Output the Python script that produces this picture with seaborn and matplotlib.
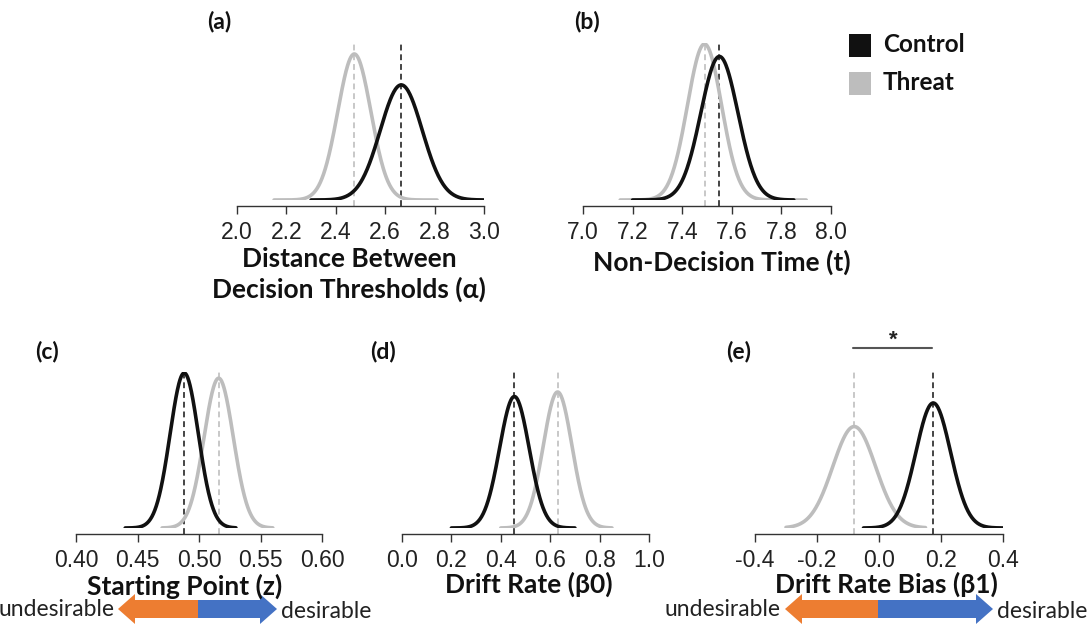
import numpy as np
import pandas as pd
import matplotlib
matplotlib.use("Agg")
import matplotlib.pyplot as plt
import seaborn as sns
from matplotlib.patches import FancyArrow, Rectangle

# ---------------- data ----------------
panel_labels = ["(a)", "(b)", "(c)", "(d)", "(e)"]
axis_titles = ["Distance Between\nDecision Thresholds (α)", "Non-Decision Time (t)",
               "Starting Point (z)", "Drift Rate (β0)", "Drift Rate Bias (β1)"]
groups = ["Control", "Threat"]

control_mean = [2.665, 7.550, 0.488, 0.455, 0.175]
control_sd = [0.085, 0.075, 0.0115, 0.060, 0.056]
control_lo = [2.30, 7.20, 0.44, 0.20, -0.05]
control_hi = [3.00, 7.85, 0.53, 0.70, 0.40]

threat_mean = [2.475, 7.490, 0.516, 0.630, -0.080]
threat_sd = [0.067, 0.069, 0.0119, 0.058, 0.069]
threat_lo = [2.15, 7.15, 0.47, 0.40, -0.30]
threat_hi = [2.81, 7.90, 0.56, 0.85, 0.15]

tick_values = [
    [2.0, 2.2, 2.4, 2.6, 2.8, 3.0],
    [7.0, 7.2, 7.4, 7.6, 7.8, 8.0],
    [0.40, 0.45, 0.50, 0.55, 0.60],
    [0.0, 0.2, 0.4, 0.6, 0.8, 1.0],
    [-0.4, -0.2, 0.0, 0.2, 0.4],
]
tick_labels = [
    ["2.0", "2.2", "2.4", "2.6", "2.8", "3.0"],
    ["7.0", "7.2", "7.4", "7.6", "7.8", "8.0"],
    ["0.40", "0.45", "0.50", "0.55", "0.60"],
    ["0.0", "0.2", "0.4", "0.6", "0.8", "1.0"],
    ["-0.4", "-0.2", "0.0", "0.2", "0.4"],
]

# ---------------- layout (pixels) ----------------
W, H = 1088, 635
# left, right, top, bottom(baseline) in pixels
boxes = [(237, 484, 43, 200), (583, 831, 43, 200), (76, 322, 372, 528),
         (402, 649, 372, 528), (755, 1003, 370, 528)]
peak_px = [146, 156, 155, 136, 125]   # pixel height of highest curve
spine_gap_px = 6
# title: center x, baseline y of first line
title_pos = [(349, 267), (722, 271), (185, 595), (529, 593), (886, 593)]
title_line_gap = 31
label_pos = [(219, 21), (587, 21), (47, 351), (383, 351), (739, 351)]
TICK_SIZE = 16.5
TITLE_SIZE = 19

sns.set_theme(style="white")
plt.rcParams["axes.unicode_minus"] = False
plt.rcParams["font.family"] = ["Liberation Sans", "DejaVu Sans"]
plt.rcParams["xtick.labelsize"] = TICK_SIZE
plt.rcParams["xtick.color"] = "#222222"
plt.rcParams["xtick.major.size"] = 5.5
plt.rcParams["xtick.major.width"] = 1.0
plt.rcParams["xtick.major.pad"] = 5
BOLD_FONT = ["Lato", "DejaVu Sans"]

c_black = "#111111"
c_grey = "#bdbdbd"
dash_black = "#444444"
dash_grey = "#c8c8c8"

fig = plt.figure(figsize=(W / 100, H / 100), dpi=100)


def npdf(x, m, s):
    return np.exp(-0.5 * ((x - m) / s) ** 2) / (s * np.sqrt(2 * np.pi))


for i in range(5):
    l, r, t, b = boxes[i]
    ax = fig.add_axes([l / W, 1 - b / H, (r - l) / W, (b - t) / H])
    rows = []
    for g, m, s, lo, hi in [("Control", control_mean[i], control_sd[i], control_lo[i], control_hi[i]),
                            ("Threat", threat_mean[i], threat_sd[i], threat_lo[i], threat_hi[i])]:
        xs = np.linspace(lo, hi, 300)
        rows.append(pd.DataFrame({"x": xs, "density": npdf(xs, m, s), "group": g}))
    df = pd.concat(rows, ignore_index=True)
    gap = spine_gap_px / (b - t)
    ax.axvline(control_mean[i], ymin=-gap, ymax=1, color=dash_black, ls=(0, (3, 2)),
               lw=1.4, clip_on=False, zorder=1)
    ax.axvline(threat_mean[i], ymin=-gap, ymax=1, color=dash_grey, ls=(0, (3, 2)),
               lw=1.4, clip_on=False, zorder=1)
    sns.lineplot(data=df, x="x", y="density", hue="group", hue_order=["Threat", "Control"],
                 palette={"Control": c_black, "Threat": c_grey}, lw=2.6, legend=False,
                 ax=ax, zorder=2, sort=False, estimator=None)
    maxpdf = max(npdf(control_mean[i], control_mean[i], control_sd[i]),
                 npdf(threat_mean[i], threat_mean[i], threat_sd[i]))
    ax.set_ylim(0, maxpdf * (b - t) / peak_px[i])
    ax.set_xlim(tick_values[i][0], tick_values[i][-1])
    ax.set_xticks(tick_values[i], tick_labels[i], fontsize=TICK_SIZE)
    ax.set_yticks([])
    ax.set_xlabel("")
    ax.set_ylabel("")
    for sp in ["top", "right", "left"]:
        ax.spines[sp].set_visible(False)
    ax.spines["bottom"].set_position(("outward", spine_gap_px * 0.72))
    ax.spines["bottom"].set_color("#333333")
    ax.spines["bottom"].set_linewidth(1.0)
    ax.tick_params(axis="x", direction="out", bottom=True, color="#333333",
                   labelsize=TICK_SIZE, labelcolor="#222222")
    ax.patch.set_alpha(0)

# overlay for text and annotations
ov = fig.add_axes([0, 0, 1, 1])
ov.set_xlim(0, W)
ov.set_ylim(H, 0)
ov.axis("off")
ov.patch.set_alpha(0)

for i in range(5):
    tx, ty = title_pos[i]
    for k, line in enumerate(axis_titles[i].split("\n")):
        ov.text(tx, ty + k * title_line_gap, line, ha="center", va="baseline",
                fontsize=TITLE_SIZE, fontweight="bold", fontfamily=BOLD_FONT, color="#111111")
    ov.text(*label_pos[i], panel_labels[i], ha="center", va="center", fontsize=16.5,
            fontweight="bold", fontfamily=BOLD_FONT, color="#111111")

# legend
for j, (g, col, yc) in enumerate([("Control", c_black, 45), ("Threat", c_grey, 83)]):
    ov.add_patch(Rectangle((849, yc - 11.5), 22, 23, color=col, lw=0))
    ov.text(883, yc, g, ha="left", va="center", fontsize=17.5, fontweight="bold",
            fontfamily=BOLD_FONT, color="#111111")

# significance bar
ov.plot([853, 932], [348, 348], color="#555555", lw=1.5)
ov.text(893, 340, "*", ha="center", va="center", fontsize=16, fontweight="bold", color="#222222")

# direction arrows
orange = "#ED7D31"
blue = "#4472C4"
for (x0, xm, x1, yc) in [(118, 198, 277, 609), (785, 878, 993, 609)]:
    ov.add_patch(FancyArrow(xm, yc, -(xm - x0), 0, width=18, head_width=30, head_length=17,
                            length_includes_head=True, color=orange, lw=0))
    ov.add_patch(FancyArrow(xm, yc, (x1 - xm), 0, width=18, head_width=30, head_length=17,
                            length_includes_head=True, color=blue, lw=0))
    ov.text(x0 - 4, yc, "undesirable", ha="right", va="center", fontsize=16.5,
            fontfamily=BOLD_FONT, color="#222222")
    ov.text(x1 + 4, yc + 2, "desirable", ha="left", va="center", fontsize=16.5,
            fontfamily=BOLD_FONT, color="#222222")

fig.savefig("out.png", dpi=100)
